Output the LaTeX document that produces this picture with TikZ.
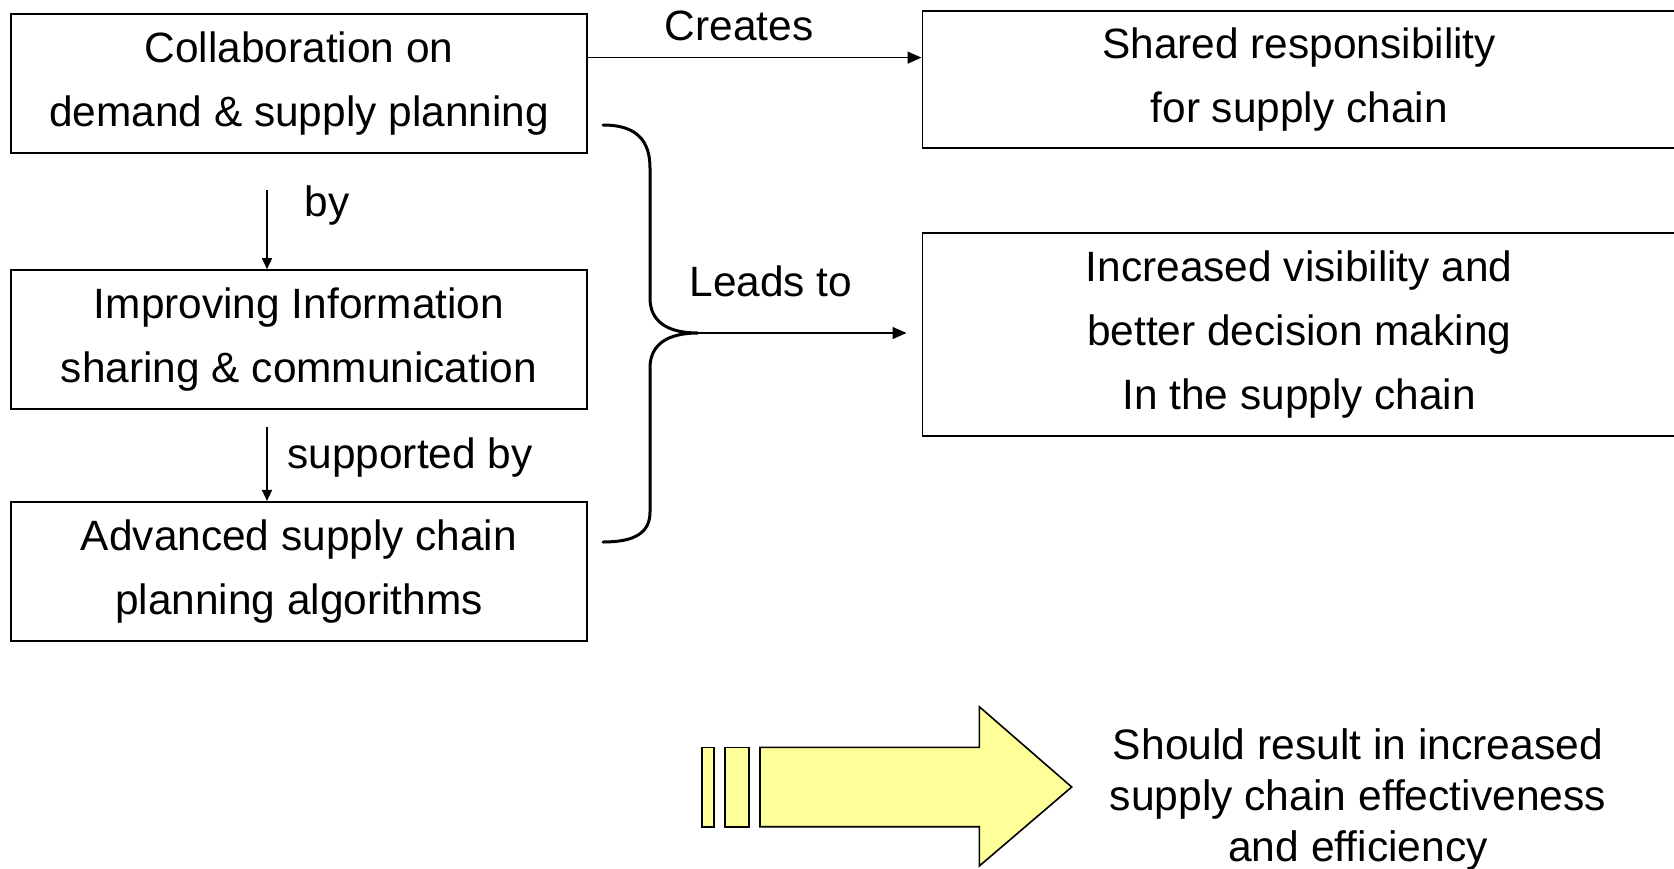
\documentclass[tikz,border=0pt]{standalone}
\usepackage{fontspec}
\setmainfont{Liberation Sans}
\usetikzlibrary{arrows.meta}
\definecolor{arrowyellow}{HTML}{FFFF99}
\begin{document}
\begin{tikzpicture}[x=0.5pt,y=-0.5pt,
  every node/.style={font=\fontsize{21.2}{32}\selectfont},
  box/.style={draw,line width=0.9pt,align=center,inner sep=0pt},
  lbl/.style={anchor=base,inner sep=0pt},
  arr/.style={line width=0.7pt,-{Triangle[length=7pt,width=6pt]}},
  varr/.style={line width=0.7pt,-{Triangle[length=5.5pt,width=5pt]}},
  bracestyle/.style={line width=1.5pt,line cap=round},
  yel/.style={draw,line width=0.8pt,fill=arrowyellow,line join=miter}]
\useasboundingbox (0,0) rectangle (1674,868);

% left boxes
\node[box,minimum width=288.25pt,minimum height=69.4pt] (b1) at (299,83.3) {Collaboration on\\demand \& supply planning};
\node[box,minimum width=288.25pt,minimum height=69.4pt] (b2) at (299,339.5) {Improving Information\\sharing \& communication};
\node[box,minimum width=288.25pt,minimum height=69.4pt] (b3) at (299,571.2) {Advanced supply chain\\planning algorithms};

% right boxes
\node[box,minimum width=376.8pt,minimum height=68.85pt] (rA) at (1299.2,79.5) {Shared responsibility\\for supply chain};
\node[box,minimum width=376.8pt,minimum height=101.45pt] (rB) at (1299.2,334.2) {Increased visibility and\\better decision making\\In the supply chain};

% labels
\node[lbl] (lcreates) at (739,40.6) {Creates};
\node[lbl] (lby) at (327,216.5) {by};
\node[lbl] (lsup) at (410,468.5) {supported by};
\node[lbl] (lleads) at (771,296) {Leads to};

% helper coordinates
\coordinate (ycreate) at (0,57.6);
\coordinate (xv) at (267,0);
\coordinate (bystart) at (267,190);
\coordinate (supstart) at (267,427);
\coordinate (tip) at (698,333);

% arrows
\draw[arr] (b1.east |- ycreate) -- (rA.west |- ycreate);
\draw[varr] (bystart) -- (b2.north -| xv);
\draw[varr] (supstart) -- (b3.north -| xv);

% brace
\draw[bracestyle] (603,125) .. controls (636,125) and (650,140) .. (650,168)
  -- (650,298) .. controls (650,322) and (668,333) .. (tip)
  .. controls (668,333) and (650,344) .. (650,368)
  -- (650,512) .. controls (650,532) and (636,542) .. (603,542);
\draw[arr] (tip) -- ([xshift=-7.5pt]rB.west |- tip);

% yellow arrow
\draw[yel] (701.7,747.3) rectangle (714,826.7);
\draw[yel] (725,747.3) rectangle (749,826.7);
\draw[yel] (760,747.3) -- (979.3,747.3) -- (979.3,706.7) -- (1071.7,787) -- (979.3,866) -- (979.3,826.7) -- (760,826.7) -- cycle;

\node[align=center,inner sep=0pt,font=\fontsize{21.3}{25.5}\selectfont] (result) at (1358,799) {Should result in increased\\supply chain effectiveness\\and efficiency};
\end{tikzpicture}
\end{document}
